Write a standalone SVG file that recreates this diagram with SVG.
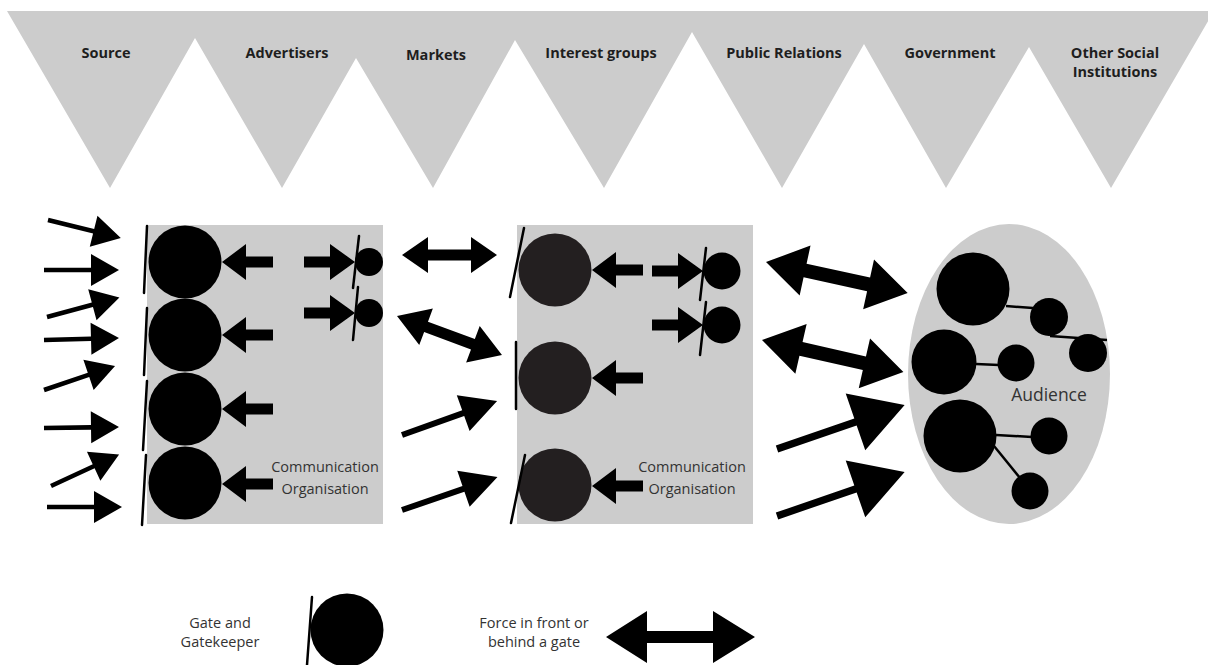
<svg xmlns="http://www.w3.org/2000/svg" xmlns:xlink="http://www.w3.org/1999/xlink" width="1208" height="665" viewBox="0 0 1208 665">
<style>
.bg{fill:#ffffff}
.band{fill:#cccccc}
.lbl{font-family:"Open Sans","Liberation Sans",sans-serif;font-weight:700;font-size:14.5px;fill:#1e1e1e;text-anchor:middle}
.txt{font-family:"Open Sans","Liberation Sans",sans-serif;font-size:14.5px;fill:#333333;text-anchor:middle}
.aud{font-family:"Open Sans","Liberation Sans",sans-serif;font-size:17.5px;fill:#333333;text-anchor:middle}
.gate{stroke:#000000;stroke-width:2.5;stroke-linecap:round;fill:none}
.link{stroke:#000000;stroke-width:2.5;fill:none}
.k{fill:#000000}
.d{fill:#231f20}
.arr{fill:#000000}
</style>
<defs>
<polygon id="thin" points="0,-2.3 47,-2.3 47,-16 75,0 47,16 47,2.3 0,2.3"/>
<polygon id="mid" points="0,-3 65,-3 65,-19 101,0 65,19 65,3 0,3"/>
<polygon id="big" points="0,-3.6 83,-3.6 83,-30 135,0 83,30 83,3.6 0,3.6"/>
<polygon id="pushL" points="0,0 24,-18 24,-5.5 51,-5.5 51,5.5 24,5.5 24,18"/>
<polygon id="pushR" points="0,0 -25,-18 -25,-5.5 -51,-5.5 -51,5.5 -25,5.5 -25,18"/>
<polygon id="dblS" points="0,0 26,-18 26,-5.5 69,-5.5 69,-18 95,0 69,18 69,5.5 26,5.5 26,18"/>
<polygon id="dblM" points="0,0 31,-19.5 31,-5.5 81,-5.5 81,-19.5 112,0 81,19.5 81,5.5 31,5.5 31,19.5"/>
<polygon id="dblL" points="0,0 40,-25.5 40,-7 105,-7 105,-25.5 145,0 105,25.5 105,7 40,7 40,25.5"/>
</defs>
<rect class="bg" x="0" y="0" width="1208" height="665"/>

<g id="banner">
<polygon class="band" points="7,11 110,188 195,38 282,188 356,58 433,188 515,40 604,188 692,32 782,188 864,44 946,188 1029,47 1111,188 1214,11"/>
</g>
<g id="label-source"><text class="lbl" x="106" y="58">Source</text></g>
<g id="label-advertisers"><text class="lbl" x="287" y="58">Advertisers</text></g>
<g id="label-markets"><text class="lbl" x="436" y="60">Markets</text></g>
<g id="label-interest"><text class="lbl" x="601" y="58">Interest groups</text></g>
<g id="label-pr"><text class="lbl" x="784" y="58">Public Relations</text></g>
<g id="label-government"><text class="lbl" x="950" y="58">Government</text></g>
<g id="label-other"><text class="lbl" x="1115" y="58">Other Social</text><text class="lbl" x="1115" y="77">Institutions</text></g>

<g id="org1">
<rect class="band" x="147" y="225" width="236" height="299"/>
<circle class="k" cx="185" cy="262" r="36.5"/>
<circle class="k" cx="185" cy="335" r="36.5"/>
<circle class="k" cx="185" cy="409" r="36.5"/>
<circle class="k" cx="185" cy="483" r="36.5"/>
<line class="gate" x1="147" y1="226" x2="144" y2="293"/>
<line class="gate" x1="147" y1="308" x2="144" y2="375"/>
<line class="gate" x1="147" y1="381" x2="143" y2="450"/>
<line class="gate" x1="146" y1="455" x2="142" y2="525"/>
<circle class="k" cx="369" cy="262" r="14"/>
<circle class="k" cx="369" cy="313" r="14"/>
<line class="gate" x1="359" y1="236" x2="353" y2="288"/>
<line class="gate" x1="358" y1="287" x2="353" y2="340"/>
<text class="txt" x="325" y="472">Communication</text>
<text class="txt" x="325" y="494">Organisation</text>
</g>

<g id="org2">
<rect class="band" x="517" y="225" width="236" height="299"/>
<circle class="d" cx="555" cy="270" r="36.5"/>
<circle class="d" cx="555" cy="378" r="36.5"/>
<circle class="d" cx="555" cy="485" r="36.5"/>
<line class="gate" x1="524" y1="228" x2="510" y2="297"/>
<line class="gate" x1="516" y1="342" x2="516" y2="409"/>
<line class="gate" x1="525" y1="455" x2="511" y2="523"/>
<circle class="k" cx="722" cy="271" r="18.5"/>
<circle class="k" cx="722" cy="325" r="18.5"/>
<line class="gate" x1="706" y1="248" x2="700" y2="300"/>
<line class="gate" x1="706" y1="302" x2="700" y2="355"/>
<text class="txt" x="692" y="472">Communication</text>
<text class="txt" x="692" y="494">Organisation</text>
</g>

<g id="audience">
<ellipse class="band" cx="1009" cy="374" rx="101" ry="150"/>
<line class="link" x1="1006" y1="306" x2="1033" y2="308"/>
<line class="link" x1="1050" y1="336" x2="1107" y2="340"/>
<line class="link" x1="976" y1="364" x2="999" y2="365"/>
<line class="link" x1="996" y1="435" x2="1032" y2="437"/>
<line class="link" x1="994" y1="446" x2="1020" y2="478"/>
<circle class="k" cx="973" cy="289" r="36.5"/>
<circle class="k" cx="1049" cy="317" r="19"/>
<circle class="k" cx="1088" cy="353" r="19"/>
<circle class="k" cx="944" cy="362" r="32.5"/>
<circle class="k" cx="1016" cy="363" r="18.5"/>
<circle class="k" cx="960" cy="436" r="36.5"/>
<circle class="k" cx="1049" cy="436" r="18.5"/>
<circle class="k" cx="1030" cy="491" r="18.5"/>
<text class="aud" x="1049" y="401">Audience</text>
</g>

<g id="connectors" class="arr">
<use xlink:href="#thin" transform="translate(48,220) rotate(13.9)"/>
<use xlink:href="#thin" transform="translate(44,270)"/>
<use xlink:href="#thin" transform="translate(47,317) rotate(-15.1)"/>
<use xlink:href="#thin" transform="translate(44,340) rotate(-1.5)"/>
<use xlink:href="#thin" transform="translate(44,390) rotate(-18.7)"/>
<use xlink:href="#thin" transform="translate(44,428) rotate(-0.8)"/>
<use xlink:href="#thin" transform="translate(51,486) rotate(-24.8)"/>
<use xlink:href="#thin" transform="translate(47,507)"/>

<use xlink:href="#pushL" transform="translate(222,262)"/>
<use xlink:href="#pushL" transform="translate(222,335)"/>
<use xlink:href="#pushL" transform="translate(222,409)"/>
<use xlink:href="#pushL" transform="translate(222,484)"/>
<use xlink:href="#pushR" transform="translate(355,262)"/>
<use xlink:href="#pushR" transform="translate(355,313)"/>

<use xlink:href="#dblS" transform="translate(402,255)"/>
<use xlink:href="#dblM" transform="translate(397,316) rotate(20.4)"/>
<use xlink:href="#mid" transform="translate(402,435) rotate(-19.7)"/>
<use xlink:href="#mid" transform="translate(402,510) rotate(-19)"/>

<use xlink:href="#pushL" transform="translate(592,270)"/>
<use xlink:href="#pushL" transform="translate(592,378)"/>
<use xlink:href="#pushL" transform="translate(592,486)"/>
<use xlink:href="#pushR" transform="translate(703,271)"/>
<use xlink:href="#pushR" transform="translate(703,325)"/>

<use xlink:href="#dblL" transform="translate(766,262) rotate(12.3)"/>
<use xlink:href="#dblL" transform="translate(762,340) rotate(12.8)"/>
<use xlink:href="#big" transform="translate(777,449) rotate(-19)"/>
<use xlink:href="#big" transform="translate(777,516) rotate(-19)"/>
</g>

<g id="legend-gate">
<text class="txt" x="220" y="628">Gate and</text>
<text class="txt" x="220" y="647">Gatekeeper</text>
<ellipse class="k" cx="347" cy="630" rx="36.5" ry="36.5"/>
<line class="gate" x1="312" y1="597" x2="307" y2="665"/>
</g>
<g id="legend-force">
<text class="txt" x="534" y="628">Force in front or</text>
<text class="txt" x="534" y="647">behind a gate</text>
<polygon class="arr" points="606,637 647,611 647,631 713,631 713,611 755,637 713,663 713,643 647,643 647,663"/>
</g>
</svg>
